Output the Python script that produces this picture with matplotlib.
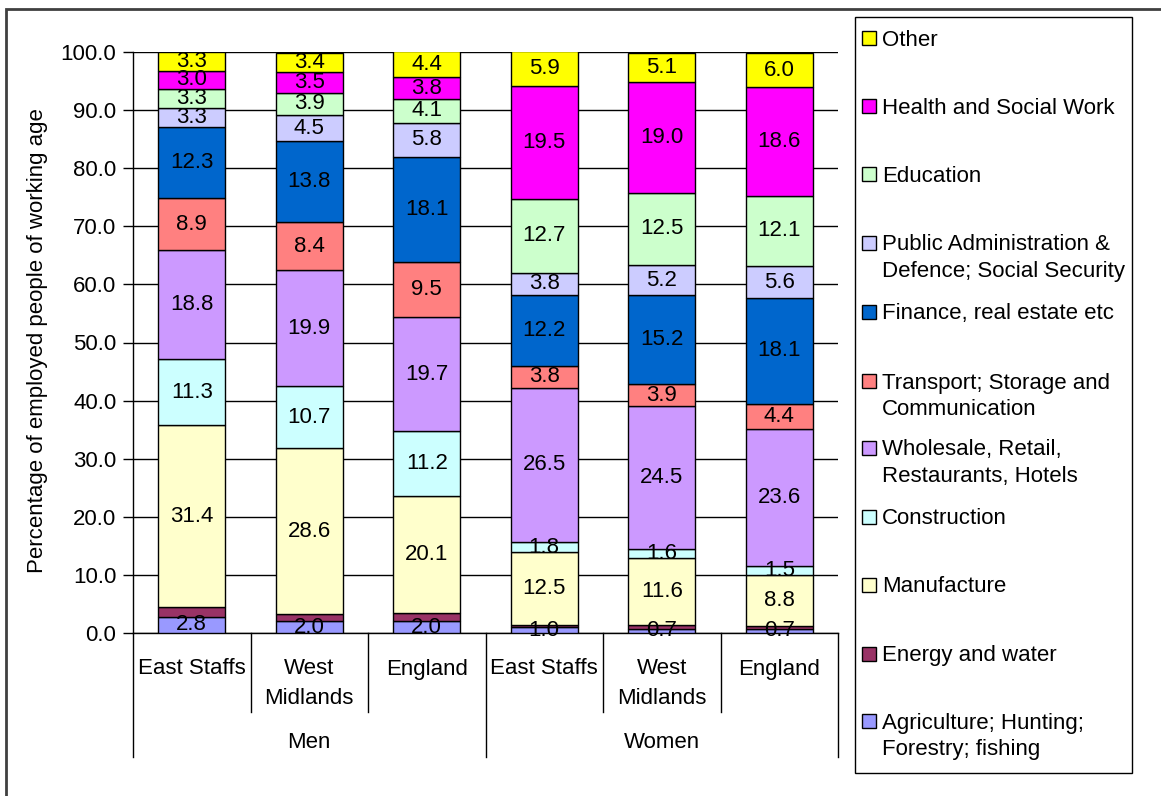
import matplotlib
matplotlib.use("Agg")
import matplotlib.pyplot as plt
import matplotlib.transforms as mtransforms
from matplotlib.patches import Rectangle
import numpy as np

plt.rcParams['font.family'] = ['Liberation Sans', 'DejaVu Sans']

categories = ["East Staffs", "West\nMidlands", "England", "East Staffs", "West\nMidlands", "England"]
groups = ["Men", "Women"]

# bottom to top
series_names = [
    "Agriculture; Hunting;\nForestry; fishing",
    "Energy and water",
    "Manufacture",
    "Construction",
    "Wholesale, Retail,\nRestaurants, Hotels",
    "Transport; Storage and\nCommunication",
    "Finance, real estate etc",
    "Public Administration &\nDefence; Social Security",
    "Education",
    "Health and Social Work",
    "Other",
]
colors = ["#9999FF", "#993366", "#FFFFCC", "#CCFFFF", "#CC99FF", "#FF8080",
          "#0066CC", "#CCCCFF", "#CCFFCC", "#FF00FF", "#FFFF00"]

agriculture = [2.8, 2.0, 2.0, 1.0, 0.7, 0.7]
energy = [1.6, 1.2, 1.4, 0.4, 0.6, 0.5]
manufacture = [31.4, 28.6, 20.1, 12.5, 11.6, 8.8]
construction = [11.3, 10.7, 11.2, 1.8, 1.6, 1.5]
wholesale = [18.8, 19.9, 19.7, 26.5, 24.5, 23.6]
transport = [8.9, 8.4, 9.5, 3.8, 3.9, 4.4]
finance = [12.3, 13.8, 18.1, 12.2, 15.2, 18.1]
public_admin = [3.3, 4.5, 5.8, 3.8, 5.2, 5.6]
education = [3.3, 3.9, 4.1, 12.7, 12.5, 12.1]
health = [3.0, 3.5, 3.8, 19.5, 19.0, 18.6]
other = [3.3, 3.4, 4.4, 5.9, 5.1, 6.0]

series = [agriculture, energy, manufacture, construction, wholesale, transport,
          finance, public_admin, education, health, other]
show_labels = [True, False, True, True, True, True, True, True, True, True, True]

W, H = 1161, 796
fig = plt.figure(figsize=(W / 100, H / 100), dpi=100)
fs = 16

def fx(px):
    return px / W

def fy(py):
    return 1 - py / H

ax_l, ax_r, ax_t, ax_b = 133, 838, 52, 633
ax = fig.add_axes([fx(ax_l), fy(ax_b), fx(ax_r) - fx(ax_l), fy(ax_t) - fy(ax_b)])

x = np.arange(len(categories))
bottom = np.zeros(len(categories))
for vals, col, name, show in zip(series, colors, series_names, show_labels):
    vals = np.array(vals)
    ax.bar(x, vals, 0.57, bottom=bottom, color=col, edgecolor="black",
           linewidth=1.0, zorder=3, label=name)
    if show:
        for xi, v, bt in zip(x, vals, bottom):
            ax.text(xi, bt + v / 2, f"{v:.1f}", ha="center", va="center",
                    fontsize=fs, zorder=4)
    bottom += vals

ax.set_xlim(-0.5, len(categories) - 0.5)
ax.set_ylim(0, 100)
ax.set_yticks(np.arange(0, 101, 10))
ax.set_yticklabels([f"{v:.1f}" for v in np.arange(0, 101, 10)], fontsize=fs)
ax.tick_params(axis="y", length=7, width=1, pad=5, direction="out")
ax.tick_params(axis="x", length=0, labelbottom=False)
ax.yaxis.grid(True, color="black", linewidth=1, zorder=0)
ax.set_axisbelow(True)
for s in ["top", "right"]:
    ax.spines[s].set_visible(False)
ax.spines["left"].set_linewidth(1)
ax.spines["bottom"].set_linewidth(1)

# Category labels and separators
cat_trans = mtransforms.blended_transform_factory(ax.transData, fig.transFigure)
for xi, lab in zip(x, categories):
    ax.text(xi, fy(658.5), lab, transform=cat_trans, ha="center", va="top",
            fontsize=fs, linespacing=1.52, clip_on=False)

px_to_data = 100 / (ax_b - ax_t)
inner_end = 712
outer_end = 757
for b in [0.5, 1.5, 3.5, 4.5]:
    ax.plot([b, b], [0, -(inner_end - ax_b) * px_to_data], color="black",
            linewidth=1, clip_on=False)
for b in [-0.5, 2.5, 5.5]:
    ax.plot([b, b], [0, -(outer_end - ax_b) * px_to_data], color="black",
            linewidth=1, clip_on=False)
for gi, g in enumerate(groups):
    ax.text(1 + 3 * gi, -(743 - ax_b) * px_to_data, g, ha="center",
            va="center", fontsize=fs, clip_on=False)

fig.text(fx(38), fy(341), "Percentage of employed people of working age",
         rotation=90, ha="center", va="center", fontsize=fs)

# Legend (top to bottom)
leg_box = Rectangle((fx(855), fy(773)), fx(1132) - fx(855), fy(17) - fy(773),
                    transform=fig.transFigure, facecolor="white", edgecolor="black",
                    linewidth=1, zorder=1)
fig.patches.append(leg_box)
ys = [38, 106, 174, 243, 312, 381, 448, 517, 585, 654, 721]
for yy, name, col in zip(ys, series_names[::-1], colors[::-1]):
    r = Rectangle((fx(862), fy(yy + 7)), fx(14), 14 / H, transform=fig.transFigure,
                  facecolor=col, edgecolor="black", linewidth=1, zorder=2)
    fig.patches.append(r)
    fig.text(fx(882), fy(yy - 8.5), name, ha="left", va="top", fontsize=fs,
             linespacing=1.37, zorder=3)

# outer chart frame
frame = Rectangle((fx(6), fy(H + 20)), fx(W + 20), fy(9) - fy(H + 20),
                  transform=fig.transFigure, facecolor="none", edgecolor="#404040",
                  linewidth=2, clip_on=False, zorder=0)
fig.patches.append(frame)

fig.savefig("out.png", dpi=100)
